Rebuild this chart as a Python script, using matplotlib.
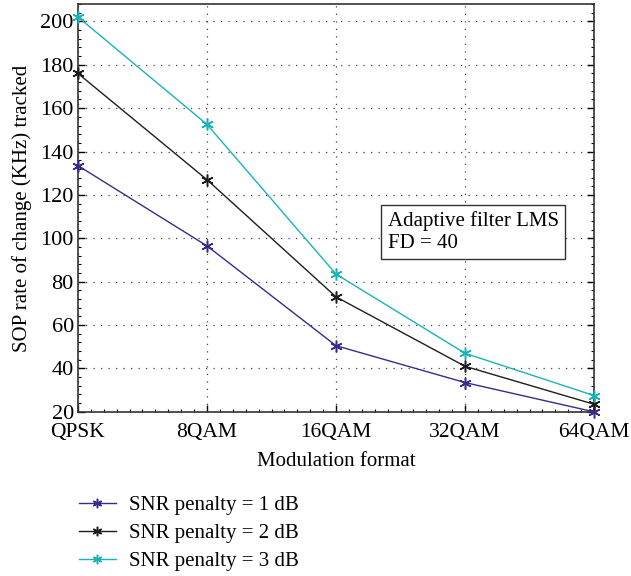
import matplotlib
matplotlib.use("Agg")
import matplotlib.pyplot as plt
from matplotlib.ticker import MultipleLocator

plt.rcParams['font.family'] = ['Liberation Serif', 'DejaVu Serif']

categories = ["QPSK", "8QAM", "16QAM", "32QAM", "64QAM"]
snr1 = [133.5, 96.5, 50.5, 33.5, 20.0]
snr2 = [176.0, 127.0, 73.0, 41.0, 23.5]
snr3 = [202.0, 152.5, 83.5, 47.0, 27.5]
labels = ["SNR penalty = 1 dB", "SNR penalty = 2 dB", "SNR penalty = 3 dB"]
colors = ["#3b2a8c", "#1e1e1e", "#19b3b8"]

fig = plt.figure(figsize=(6.31, 5.76), dpi=100)
ax = fig.add_axes([0.1236, 0.285, 0.8178, 0.708])

x = list(range(len(categories)))
for vals, lab, c in zip([snr1, snr2, snr3], labels, colors):
    ax.plot(x, vals, color=c, lw=1.0, marker=(6, 2, 0), markersize=8.5,
            markeredgewidth=1.1, label=lab, clip_on=False, zorder=3)

ax.set_xlim(0, 4)
ax.set_ylim(20, 208)
ax.set_xticks(x)
ax.set_xticklabels(categories, fontsize=15.5)
ax.set_yticks(range(20, 201, 20))
ax.tick_params(axis='y', labelsize=16, pad=3)
ax.tick_params(axis='x', pad=8)
ax.xaxis.set_minor_locator(MultipleLocator(0.1))
ax.yaxis.set_minor_locator(MultipleLocator(4))
ax.tick_params(which='both', direction='in', right=True, top=False)
ax.tick_params(which='major', length=5, width=1.0)
ax.tick_params(which='minor', length=2.5, width=0.8)
ax.grid(True, which='major', linestyle=(0, (1, 5)), color='#444444', lw=0.9)
for s in ax.spines.values():
    s.set_color('#333333')
    s.set_linewidth(1.2)

ax.set_xlabel("Modulation format", fontsize=15, labelpad=7)
ax.set_ylabel("SOP rate of change (KHz) tracked", fontsize=15, labelpad=6)

ax.text(0.6, 0.39, "Adaptive filter LMS\nFD = 40", transform=ax.transAxes,
        fontsize=15, va='bottom', ha='left', linespacing=1.2,
        bbox=dict(boxstyle='square,pad=0.3', fc='white', ec='#333333', lw=1.0))

handles, labs = ax.get_legend_handles_labels()
fig.legend(handles, labs, loc='upper left', bbox_to_anchor=(0.095, 0.172),
           frameon=False, fontsize=15, handlelength=1.8, labelspacing=0.4,
           handletextpad=0.6, markerscale=0.8)

fig.savefig("out.png", dpi=100)
